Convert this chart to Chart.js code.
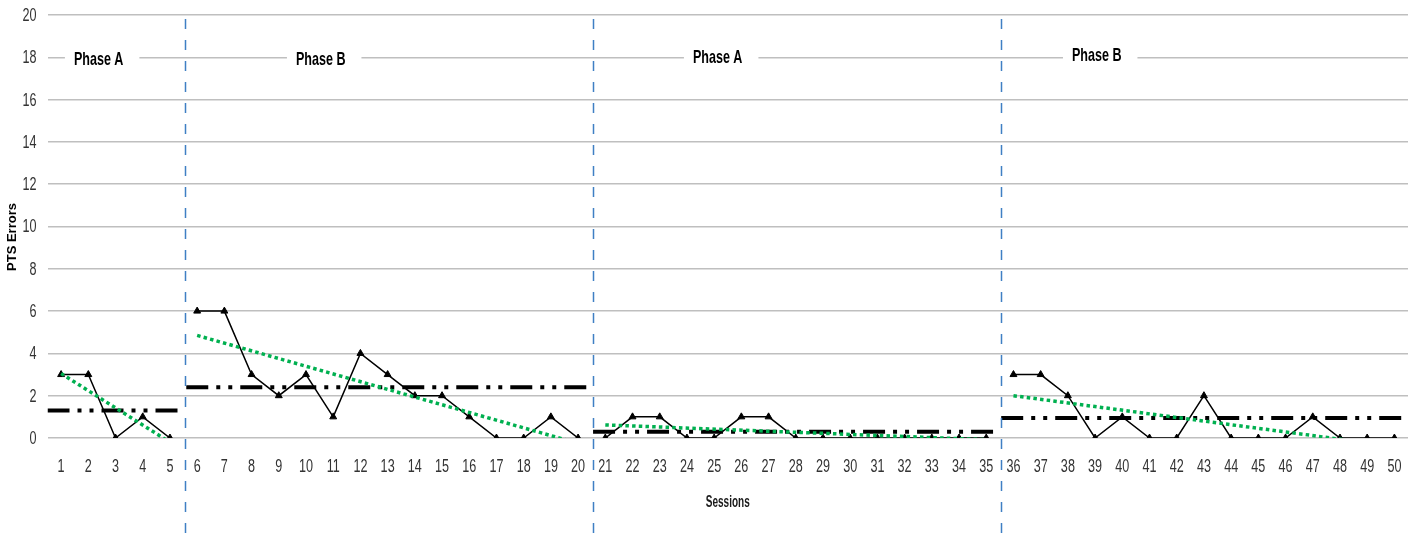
<!DOCTYPE html>
<html>
<head>
<meta charset="utf-8">
<script src="https://cdn.jsdelivr.net/npm/chart.js@4/dist/chart.umd.min.js"></script>
<style>
  html, body { margin: 0; padding: 0; background: #fff; }
  #wrap { width: 1419px; height: 540px; position: relative; }
</style>
</head>
<body>
<div id="wrap"><canvas id="chart"></canvas></div>
<script>
const sessions = [1, 2, 3, 4, 5, 6, 7, 8, 9, 10, 11, 12, 13, 14, 15, 16, 17, 18, 19, 20,
    21, 22, 23, 24, 25, 26, 27, 28, 29, 30, 31, 32, 33, 34, 35, 36, 37, 38, 39, 40,
    41, 42, 43, 44, 45, 46, 47, 48, 49, 50];
const errors = [3, 3, 0, 1, 0, 6, 6, 3, 2, 3, 1, 4, 3, 2, 2, 1, 0, 0, 1, 0,
    0, 1, 1, 0, 0, 1, 1, 0, 0, 0, 0, 0, 0, 0, 0, 3, 3, 2, 0, 1,
    0, 0, 2, 0, 0, 0, 1, 0, 0, 0];

const phaseNames = ["Phase A", "Phase B", "Phase A", "Phase B"];
const phaseFirst = [1, 6, 21, 36];
const phaseLast = [5, 20, 35, 50];
const phaseChanges = [5.55, 20.55, 35.55];

// level lines and the session span each one covers
const levelValues = [1.3, 2.4, 0.3, 0.95];
const levelFrom = [0.5, 5.6, 20.55, 35.55];
const levelTo = [5.4, 20.45, 35.45, 50.5];

// trend lines, start and end
const trendStart = [[1, 3.05], [6, 4.85], [21, 0.62], [36, 2.0]];
const trendEnd = [[5, -0.2], [20, -0.25], [35, -0.08], [50, -0.4]];

const yTicks = [0, 2, 4, 6, 8, 10, 12, 14, 16, 18, 20];

const sans = "'Liberation Sans', Arial, sans-serif";

const datasets = [];

levelValues.forEach((v, i) => {
    datasets.push({
        type: "line",
        data: [{x: levelFrom[i], y: v}, {x: levelTo[i], y: v}],
        borderColor: "#000",
        borderWidth: 4,
        borderDash: [22, 8, 4, 8, 4, 8],
        borderCapStyle: "butt",
        pointRadius: 0,
        order: 3
    });
});

phaseFirst.forEach((first, i) => {
    const pts = [];
    sessions.forEach((s, k) => {
        if (s >= first && s <= phaseLast[i]) pts.push({x: s, y: errors[k]});
    });
    datasets.push({
        type: "line",
        data: pts,
        borderColor: "#000",
        borderWidth: 1.5,
        pointStyle: "triangle",
        pointRadius: 4,
        pointBackgroundColor: "#000",
        pointBorderColor: "#000",
        pointBorderWidth: 1,
        order: 2
    });
});

trendStart.forEach((p, i) => {
    datasets.push({
        type: "line",
        data: [{x: p[0], y: p[1]}, {x: trendEnd[i][0], y: trendEnd[i][1]}],
        borderColor: "#00b050",
        borderWidth: 3.5,
        borderDash: [3.5, 3.2],
        pointRadius: 0,
        order: 1
    });
});

// the original's text is squeezed sideways, so draw it narrowed
function narrowText(ctx, text, x, y, squeeze) {
    ctx.save();
    ctx.translate(x, y);
    ctx.scale(squeeze, 1);
    ctx.fillText(text, 0, 0);
    ctx.restore();
}

const phasePlugin = {
    id: "phases",
    afterDraw(chart) {
        const {ctx, chartArea} = chart;
        const xs = chart.scales.x, ys = chart.scales.y;
        ctx.save();

        // tick labels, placed by the scales
        ctx.font = "18px " + sans;
        ctx.fillStyle = "#333";
        ctx.textBaseline = "middle";
        ctx.textAlign = "right";
        ys.ticks.forEach(t => {
            narrowText(ctx, String(t.value), chartArea.left - 11, ys.getPixelForValue(t.value) + 1, 0.7);
        });
        ctx.textAlign = "center";
        xs.ticks.forEach(t => {
            narrowText(ctx, String(t.value), xs.getPixelForValue(t.value), chartArea.bottom + 29, 0.7);
        });

        // phase change lines
        ctx.strokeStyle = "#3f7fc4";
        ctx.lineWidth = 1.5;
        ctx.setLineDash([10, 11]);
        phaseChanges.forEach(p => {
            const px = Math.round(xs.getPixelForValue(p)) + 0.5;
            ctx.beginPath();
            ctx.moveTo(px, chartArea.top + 4);
            ctx.lineTo(px, chart.height);
            ctx.stroke();
        });
        ctx.setLineDash([]);

        // phase labels sitting on the 18 gridline
        const labelAt = [2.38, 10.54, 25.13, 39.06];
        const labelDy = [2.5, 2, 0.5, -2];
        ctx.font = "bold 19px " + sans;
        phaseNames.forEach((name, i) => {
            const cx = xs.getPixelForValue(labelAt[i]);
            const cy = ys.getPixelForValue(18) + labelDy[i];
            const w = ctx.measureText(name).width * 0.66;
            ctx.fillStyle = "#fff";
            ctx.fillRect(cx - w / 2 - 9, cy - 10, w + 25, 20);
            ctx.fillStyle = "#000";
            narrowText(ctx, name, cx, cy, 0.66);
        });

        // axis titles
        ctx.font = "bold 17px " + sans;
        ctx.fillStyle = "#1a1a1a";
        narrowText(ctx, "Sessions", (chartArea.left + chartArea.right) / 2, 502, 0.59);
        ctx.fillStyle = "#000";
        ctx.translate(12, 237);
        ctx.rotate(-Math.PI / 2);
        ctx.font = "bold 13px " + sans;
        ctx.fillText("PTS Errors", 0, 0);
        ctx.restore();
    }
};

new Chart(document.getElementById("chart"), {
    type: "line",
    data: {datasets: datasets},
    options: {
        responsive: true,
        maintainAspectRatio: false,
        animation: false,
        layout: {padding: {left: 0, right: 11, top: 15, bottom: 0}},
        plugins: {
            legend: {display: false},
            tooltip: {enabled: false}
        },
        scales: {
            x: {
                type: "linear",
                min: 0.5,
                max: 50.5,
                afterBuildTicks: scale => {
                    scale.ticks = sessions.map(s => ({value: s}));
                },
                afterFit: scale => { scale.height = 102; },
                grid: {display: false, drawTicks: false},
                border: {display: false},
                ticks: {display: false}
            },
            y: {
                min: 0,
                max: 20,
                afterBuildTicks: scale => {
                    scale.ticks = yTicks.map(v => ({value: v}));
                },
                afterFit: scale => { scale.width = 47.5; },
                grid: {color: "#bfbfbf", lineWidth: 1.5, drawTicks: false},
                border: {display: false},
                ticks: {display: false}
            }
        }
    },
    plugins: [phasePlugin]
});
</script>
</body>
</html>
